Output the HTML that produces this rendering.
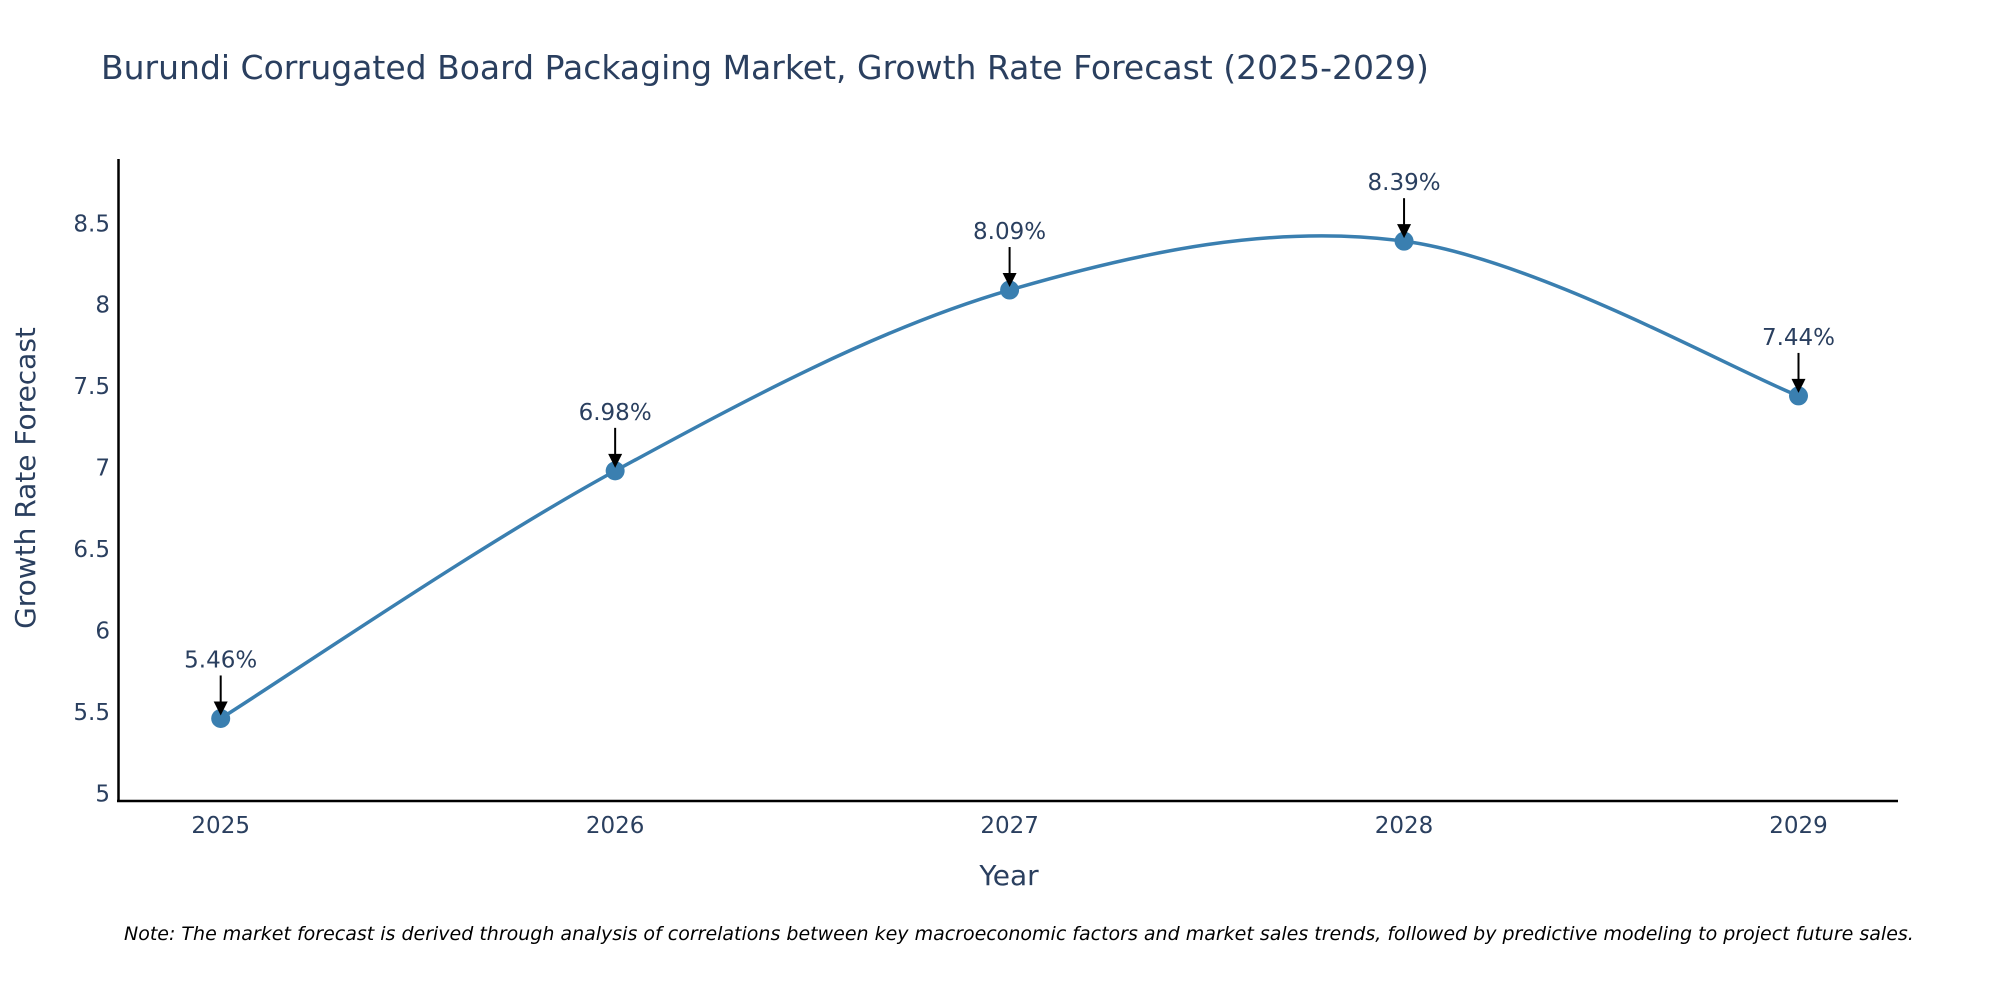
<!DOCTYPE html>
<html>
<head>
<meta charset="utf-8">
<style>
  html,body{margin:0;padding:0;background:#fff;overflow:hidden;}
  svg text{font-family:"DejaVu Sans","Liberation Sans",sans-serif;fill:#2a3f5f;}
</style>
</head>
<body>
<svg id="chart" width="2000" height="1000" viewBox="0 0 2000 1000" xmlns="http://www.w3.org/2000/svg">
  <text x="101" y="79" font-size="33">Burundi Corrugated Board Packaging Market, Growth Rate Forecast (2025-2029)</text>
  <g id="yticks"></g>
  <g id="xticks"></g>
  <line x1="118.5" y1="159" x2="118.5" y2="802" stroke="#000" stroke-width="2.5"/>
  <line x1="117" y1="801" x2="1898" y2="801" stroke="#000" stroke-width="2.5"/>
  <path id="line" fill="none" stroke="#3a7fb0" stroke-width="3.5"/>
  <g id="points"></g>
  <g id="annots"></g>
  <text x="0" y="0" font-size="28" text-anchor="middle" transform="translate(35,478) rotate(-90)">Growth Rate Forecast</text>
  <text x="1009" y="885" font-size="28" text-anchor="middle">Year</text>
  <text x="124" y="940" font-size="19" font-style="italic" style="fill:#000">Note: The market forecast is derived through analysis of correlations between key macroeconomic factors and market sales trends, followed by predictive modeling to project future sales.</text>
</svg>
<script>
const years = ["2025","2026","2027","2028","2029"];
const growth = [5.46, 6.98, 8.09, 8.39, 7.44];
const yTickValues = [5, 5.5, 6, 6.5, 7, 7.5, 8, 8.5];
const yTickLabels = ["5","5.5","6","6.5","7","7.5","8","8.5"];

const NS = "http://www.w3.org/2000/svg";
const x0 = 220.7, x1 = 1798.5;
function xScale(i){ return x0 + (x1 - x0) * i / (years.length - 1); }
function yScale(v){ return 793.4 - (v - 5) * 162.9; }
function mk(tag, attrs, parent){
  const e = document.createElementNS(NS, tag);
  for (const k in attrs) e.setAttribute(k, attrs[k]);
  parent.appendChild(e); return e;
}
const yt = document.getElementById('yticks');
yTickValues.forEach((v, i) => {
  const t = mk('text', {x: 110, y: yScale(v) + 8, 'font-size': 23, 'text-anchor': 'end'}, yt);
  
  
  t.textContent = yTickLabels[i];
});
const xt = document.getElementById('xticks');
years.forEach((y, i) => {
  const t = mk('text', {x: xScale(i), y: 833, 'font-size': 23, 'text-anchor': 'middle'}, xt);
  
  
  t.textContent = y;
});
const pts = growth.map((v, i) => [xScale(i), yScale(v)]);
let d = `M${pts[0][0]},${pts[0][1]}`;
for (let i = 0; i < pts.length - 1; i++) {
  const p0 = pts[Math.max(0, i - 1)], p1 = pts[i], p2 = pts[i + 1], p3 = pts[Math.min(pts.length - 1, i + 2)];
  const c1 = [p1[0] + (p2[0] - p0[0]) / 6, p1[1] + (p2[1] - p0[1]) / 6];
  const c2 = [p2[0] - (p3[0] - p1[0]) / 6, p2[1] - (p3[1] - p1[1]) / 6];
  d += ` C${c1[0]},${c1[1]} ${c2[0]},${c2[1]} ${p2[0]},${p2[1]}`;
}
document.getElementById('line').setAttribute('d', d);
const pg = document.getElementById('points');
const ag = document.getElementById('annots');
pts.forEach((p, i) => {
  const c = mk('circle', {cx: p[0], cy: p[1], r: 9.5, fill: '#3a7fb0'}, pg);
  
  
  const l = mk('line', {x1: p[0], y1: p[1] - 43, x2: p[0], y2: p[1] - 14, stroke: '#000', 'stroke-width': 2}, ag);
  
  
  const a = mk('polygon', {points: `${p[0]-7},${p[1]-17} ${p[0]+7},${p[1]-17} ${p[0]},${p[1]-3}`, fill: '#000'}, ag);
  
  
  const t = mk('text', {x: p[0], y: p[1] - 51, 'font-size': 23, 'text-anchor': 'middle'}, ag);
  
  
  t.textContent = growth[i].toFixed(2) + '%';
});
</script>
</body>
</html>
